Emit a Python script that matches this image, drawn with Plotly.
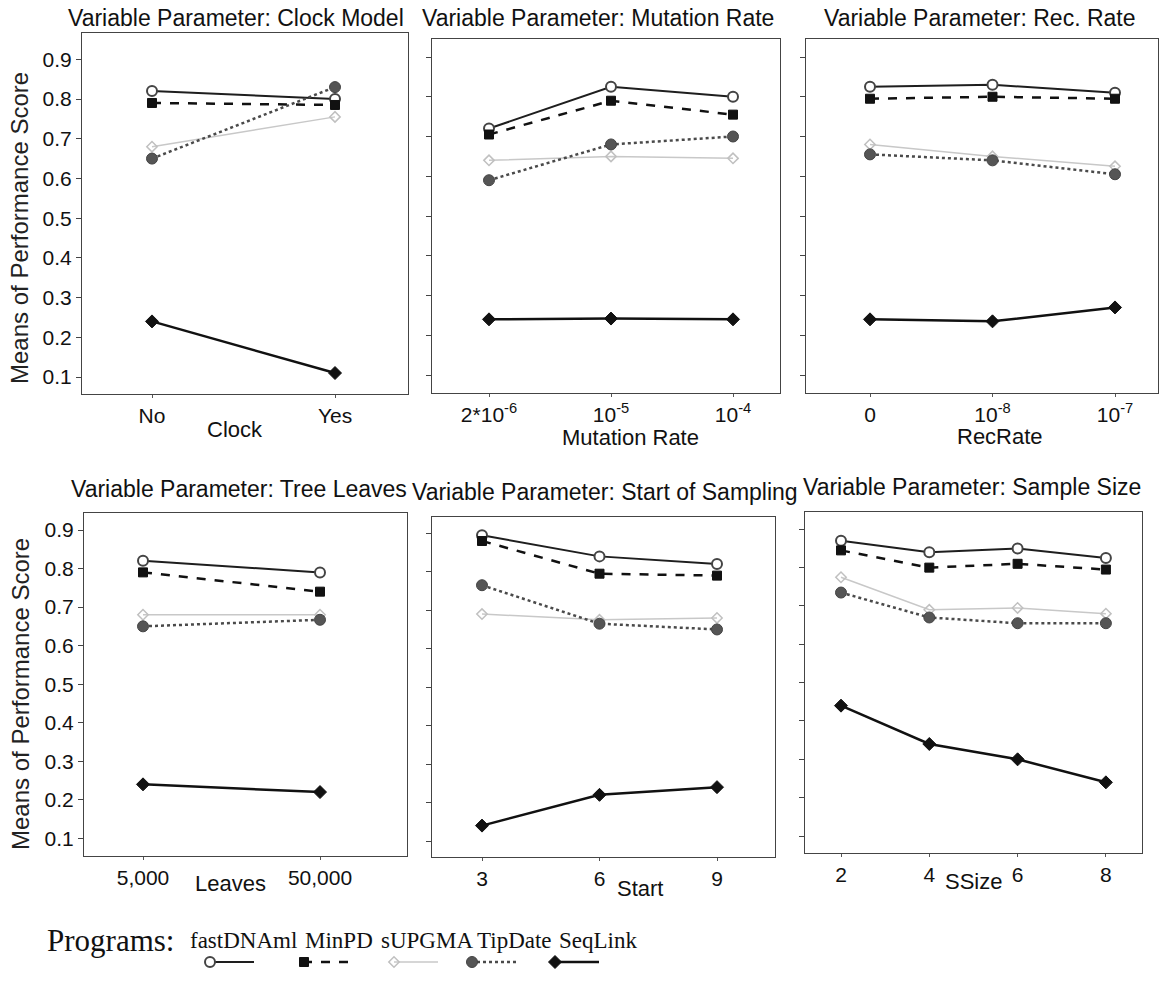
import plotly.graph_objects as go

# ---------------------------------------------------------------------------
# Mean performance scores per program, one small table per varied parameter.
# Row order follows `programs`.
# ---------------------------------------------------------------------------
programs = ["fastDNAml", "MinPD", "sUPGMA", "TipDate", "SeqLink"]

clock_cats = ["No", "Yes"]
clock_scores = [
    [0.82, 0.80],
    [0.79, 0.785],
    [0.68, 0.755],
    [0.65, 0.83],
    [0.24, 0.11],
]

mutation_cats = ["2*10<sup>-6</sup>", "10<sup>-5</sup>", "10<sup>-4</sup>"]
mutation_scores = [
    [0.72, 0.825, 0.80],
    [0.705, 0.79, 0.755],
    [0.64, 0.65, 0.645],
    [0.59, 0.68, 0.70],
    [0.24, 0.242, 0.24],
]

rec_cats = ["0", "10<sup>-8</sup>", "10<sup>-7</sup>"]
rec_scores = [
    [0.825, 0.83, 0.81],
    [0.795, 0.80, 0.795],
    [0.68, 0.65, 0.625],
    [0.655, 0.64, 0.605],
    [0.24, 0.235, 0.27],
]

leaves_cats = ["5,000", "50,000"]
leaves_scores = [
    [0.82, 0.79],
    [0.79, 0.74],
    [0.68, 0.68],
    [0.65, 0.667],
    [0.24, 0.22],
]

start_cats = ["3", "6", "9"]
start_scores = [
    [0.895, 0.84, 0.82],
    [0.88, 0.795, 0.79],
    [0.69, 0.675, 0.68],
    [0.765, 0.665, 0.65],
    [0.14, 0.22, 0.24],
]

ssize_cats = ["2", "4", "6", "8"]
ssize_scores = [
    [0.87, 0.84, 0.85, 0.825],
    [0.845, 0.80, 0.81, 0.795],
    [0.775, 0.69, 0.695, 0.68],
    [0.735, 0.67, 0.655, 0.655],
    [0.44, 0.34, 0.30, 0.24],
]

y_ticks = [0.1, 0.2, 0.3, 0.4, 0.5, 0.6, 0.7, 0.8, 0.9]
y_title = "Means of Performance Score"

# ---------------------------------------------------------------------------
# Styling
# ---------------------------------------------------------------------------
W, H = 1164, 994
SANS = "Liberation Sans, Arial, sans-serif"
SERIF = "Liberation Serif, Times New Roman, serif"

styles = {
    "fastDNAml": dict(line=dict(color="#1e1e1e", width=2, dash="solid"),
                      marker=dict(symbol="circle", size=10, color="white",
                                  line=dict(color="#444", width=2))),
    "MinPD": dict(line=dict(color="#111", width=2.5, dash="dash"),
                  marker=dict(symbol="square", size=9, color="#111",
                              line=dict(color="#111", width=1))),
    "sUPGMA": dict(line=dict(color="#c8c8c8", width=1.5, dash="solid"),
                   marker=dict(symbol="diamond-open", size=8, color="#c0c0c0",
                               line=dict(color="#c0c0c0", width=1.5))),
    "TipDate": dict(line=dict(color="#4a4a4a", width=2.5, dash="dot"),
                    marker=dict(symbol="circle", size=11, color="#555",
                                line=dict(color="#444", width=1))),
    "SeqLink": dict(line=dict(color="#111", width=2.5, dash="solid"),
                    marker=dict(symbol="diamond", size=10, color="#111",
                                line=dict(color="#111", width=1))),
}

# Panel geometry in pixels: box edges, pixel rows of the 0.9 / 0.1 ticks,
# and the pixel column of the first category plus spacing between categories.
panels = [
    dict(title="Variable Parameter: Clock Model", cats=clock_cats, scores=clock_scores,
         box=(82, 408, 33, 394), yt=(59.3, 377.0), xc=(152, 183),
         title_xy=(236, 18), xlab="Clock", xlab_xy=(235, 429), ylabels=True),
    dict(title="Variable Parameter: Mutation Rate", cats=mutation_cats, scores=mutation_scores,
         box=(432, 780, 39, 393), yt=(57.0, 375.0), xc=(489, 122),
         title_xy=(598, 18), xlab="Mutation Rate", xlab_xy=(630, 437), ylabels=False),
    dict(title="Variable Parameter: Rec. Rate", cats=rec_cats, scores=rec_scores,
         box=(806, 1158, 39, 393), yt=(57.0, 375.0), xc=(870, 122.5),
         title_xy=(980, 18), xlab="RecRate", xlab_xy=(1000, 436), ylabels=False),
    dict(title="Variable Parameter: Tree Leaves", cats=leaves_cats, scores=leaves_scores,
         box=(84, 407, 513, 856), yt=(530.0, 838.3), xc=(143, 177),
         title_xy=(239, 489), xlab="Leaves", xlab_xy=(230, 883), ylabels=True),
    dict(title="Variable Parameter: Start of Sampling", cats=start_cats, scores=start_scores,
         box=(432, 775, 517, 857), yt=(533.3, 841.0), xc=(482, 117.5),
         title_xy=(605, 492), xlab="Start", xlab_xy=(640, 888), ylabels=False),
    dict(title="Variable Parameter: Sample Size", cats=ssize_cats, scores=ssize_scores,
         box=(805, 1142, 512, 853), yt=(529.3, 836.0), xc=(841, 88.3),
         title_xy=(972, 487), xlab="SSize", xlab_xy=(973, 881), ylabels=False),
]

fig = go.Figure()
annotations = []

for i, p in enumerate(panels, start=1):
    xa = "x" if i == 1 else f"x{i}"
    ya = "y" if i == 1 else f"y{i}"
    xl, xr, yt_px, yb_px = p["box"]
    y9, y1 = p["yt"]
    per = (y1 - y9) / 0.8  # pixels per unit of score
    y_top = 0.9 + (y9 - yt_px) / per
    y_bot = 0.1 - (yb_px - y1) / per
    x0, dx = p["xc"]
    x_lo = -(x0 - xl) / dx
    x_hi = (xr - x0) / dx

    for prog, vals in zip(programs, p["scores"]):
        st = styles[prog]
        fig.add_trace(go.Scatter(
            x=list(range(len(p["cats"]))), y=vals, mode="lines+markers",
            name=prog, showlegend=False, xaxis=xa, yaxis=ya,
            line=st["line"], marker=st["marker"], cliponaxis=False,
        ))

    xkey = "xaxis" if i == 1 else f"xaxis{i}"
    ykey = "yaxis" if i == 1 else f"yaxis{i}"
    fig.layout[xkey] = dict(
        domain=[xl / W, xr / W], range=[x_lo, x_hi], anchor=ya,
        tickmode="array", tickvals=list(range(len(p["cats"]))), ticktext=p["cats"],
        ticks="outside", ticklen=3, tickcolor="#555", tickwidth=1,
        showgrid=False, zeroline=False, showline=True, linecolor="#444",
        linewidth=1, mirror=True,
        tickfont=dict(family=SANS, size=21, color="#111"),
    )
    fig.layout[ykey] = dict(
        domain=[1 - yb_px / H, 1 - yt_px / H], range=[y_bot, y_top], anchor=xa,
        tickmode="array", tickvals=y_ticks,
        ticktext=[f"{v:.1f}" for v in y_ticks] if p["ylabels"] else [""] * len(y_ticks),
        ticks="outside", ticklen=5, tickcolor="#444", tickwidth=1,
        showgrid=False, zeroline=False, showline=True, linecolor="#444",
        linewidth=1, mirror=True,
        tickfont=dict(family=SANS, size=21, color="#111"),
    )

    tx, ty = p["title_xy"]
    annotations.append(dict(
        text=p["title"], x=tx / W, y=1 - ty / H, xref="paper", yref="paper",
        xanchor="center", yanchor="middle", showarrow=False,
        font=dict(family=SANS, size=23, color="#111"),
    ))
    lx, ly = p["xlab_xy"]
    annotations.append(dict(
        text=p["xlab"], x=lx / W, y=1 - ly / H, xref="paper", yref="paper",
        xanchor="center", yanchor="middle", showarrow=False,
        font=dict(family=SANS, size=22, color="#111"),
    ))

# Shared y-axis titles for the two rows
for cy in (228, 694):
    annotations.append(dict(
        text=y_title, x=20 / W, y=1 - cy / H, xref="paper", yref="paper",
        xanchor="center", yanchor="middle", textangle=-90, showarrow=False,
        font=dict(family=SANS, size=24, color="#222"),
    ))

# ---------------------------------------------------------------------------
# Legend row: program name with its line sample underneath
# ---------------------------------------------------------------------------
legend_text_x = [243, 339, 427, 514, 598]
legend_glyph_x = [210, 304, 394, 472, 555]
glyph_len = 44
text_y, glyph_y = 940, 962

annotations.append(dict(
    text="Programs:", x=110 / W, y=1 - text_y / H, xref="paper", yref="paper",
    xanchor="center", yanchor="middle", showarrow=False,
    font=dict(family=SERIF, size=31, color="#111"),
))
for prog, tx, gx in zip(programs, legend_text_x, legend_glyph_x):
    annotations.append(dict(
        text=prog, x=tx / W, y=1 - text_y / H, xref="paper", yref="paper",
        xanchor="center", yanchor="middle", showarrow=False,
        font=dict(family=SERIF, size=23, color="#111"),
    ))
    st = styles[prog]
    fig.add_trace(go.Scatter(
        x=[gx + glyph_len, gx], y=[glyph_y, glyph_y], mode="lines",
        xaxis="x7", yaxis="y7", showlegend=False, hoverinfo="skip",
        line=dict(color=st["line"]["color"], width=st["line"]["width"],
                  dash=st["line"]["dash"]),
    ))
    fig.add_trace(go.Scatter(
        x=[gx], y=[glyph_y], mode="markers",
        xaxis="x7", yaxis="y7", showlegend=False, hoverinfo="skip",
        marker=st["marker"],
    ))

fig.layout["xaxis7"] = dict(domain=[0, 1], range=[0, W], visible=False,
                            anchor="y7", fixedrange=True)
fig.layout["yaxis7"] = dict(domain=[0, 95 / H], range=[H, H - 95], visible=False,
                            anchor="x7", fixedrange=True)

fig.update_layout(
    width=W, height=H,
    margin=dict(l=0, r=0, t=0, b=0),
    paper_bgcolor="white", plot_bgcolor="white",
    annotations=annotations,
    showlegend=False,
)

fig.write_html("out.html")
